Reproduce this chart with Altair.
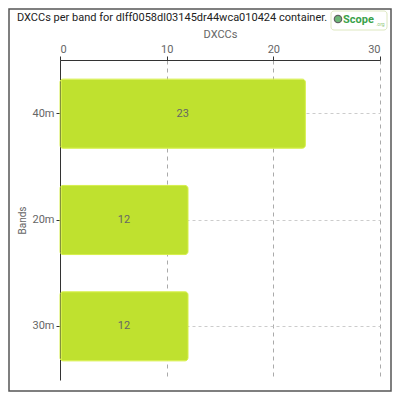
import altair as alt
import pandas as pd

bands = ["40m", "20m", "30m"]
dxccs = [23, 12, 12]
title_text = "DXCCs per band for dlff0058dl03145dr44wca010424 container."

df = pd.DataFrame({"band": bands, "dxcc": dxccs})

FONT = "Roboto"

base = alt.Chart(df)

bars = base.mark_bar(
    color="#bfe12f", stroke="#d6ef4a", strokeWidth=1, cornerRadius=3, xOffset=1.5
).encode(
    y=alt.Y("band:N", sort=bands, title="Bands",
            scale=alt.Scale(paddingInner=0.35, paddingOuter=0.18),
            axis=alt.Axis(grid=True, gridDash=[3, 3], gridColor="#cccccc",
                          domainColor="#333333", tickColor="#333333", tickSize=4,
                          labelColor="#666666", labelFontSize=11, labelFont=FONT,
                          titleFont=FONT, titleFontSize=10, titleFontWeight="normal",
                          titleColor="#666666", titlePadding=4, labelPadding=2)),
    x=alt.X("dxcc:Q", title="DXCCs",
            scale=alt.Scale(domain=[0, 30]),
            axis=alt.Axis(orient="top", values=[0, 10, 20, 30], grid=True,
                          gridDash=[4, 4], gridColor="#aaaaaa",
                          domainColor="#333333", tickColor="#333333", tickSize=4,
                          labelColor="#666666", labelFontSize=11, labelFont=FONT,
                          titleFont=FONT, titleFontSize=11, titleFontWeight="normal",
                          titleColor="#666666", titlePadding=4, labelPadding=2)),
)

labels = base.mark_text(font=FONT, fontSize=11, color="#666666").encode(
    y=alt.Y("band:N", sort=bands),
    x=alt.X("half:Q"),
    text=alt.Text("dxcc:Q"),
).transform_calculate(half="datum.dxcc / 2")

frame = alt.Chart(pd.DataFrame({"f": [0]})).mark_rect(
    fill=None, stroke="#555555", strokeWidth=1.5
).encode(
    x=alt.value(-51), x2=alt.value(331), y=alt.value(-51), y2=alt.value(331)
)

title = alt.Chart(pd.DataFrame({"t": [title_text]})).mark_text(
    font=FONT, fontSize=11, color="#222222", align="left", baseline="middle"
).encode(text="t:N", x=alt.value(-43), y=alt.value(-42))

logo_box = alt.Chart(pd.DataFrame({"f": [0]})).mark_rect(
    fill="#ffffff", stroke="#dde8c0", strokeWidth=1, cornerRadius=3
).encode(x=alt.value(271), x2=alt.value(327), y=alt.value(-49), y2=alt.value(-30))

logo_dot = alt.Chart(pd.DataFrame({"f": [0]})).mark_point(
    filled=True, color="#2e9a3e", size=55, shape="circle", stroke="#222222", strokeWidth=1.2
).encode(x=alt.value(278), y=alt.value(-41))

logo_text = alt.Chart(pd.DataFrame({"t": ["Scope"]})).mark_text(
    font=FONT, fontSize=11, fontWeight="bold", color="#3aa24a",
    align="left", baseline="middle"
).encode(text="t:N", x=alt.value(283), y=alt.value(-40))

logo_org = alt.Chart(pd.DataFrame({"t": [".org"]})).mark_text(
    font=FONT, fontSize=5, color="#8fc97a", align="left", baseline="middle"
).encode(text="t:N", x=alt.value(316), y=alt.value(-36))

chart = alt.layer(frame, bars, labels, title, logo_box, logo_dot, logo_text, logo_org).properties(
    width=320, height=320,
    autosize=alt.AutoSizeParams(type="none"),
    padding={"left": 52, "top": 52, "right": 12, "bottom": 12},
).configure_view(stroke=None)

chart.save("out.html", embed_options={"renderer": "svg", "actions": False})
